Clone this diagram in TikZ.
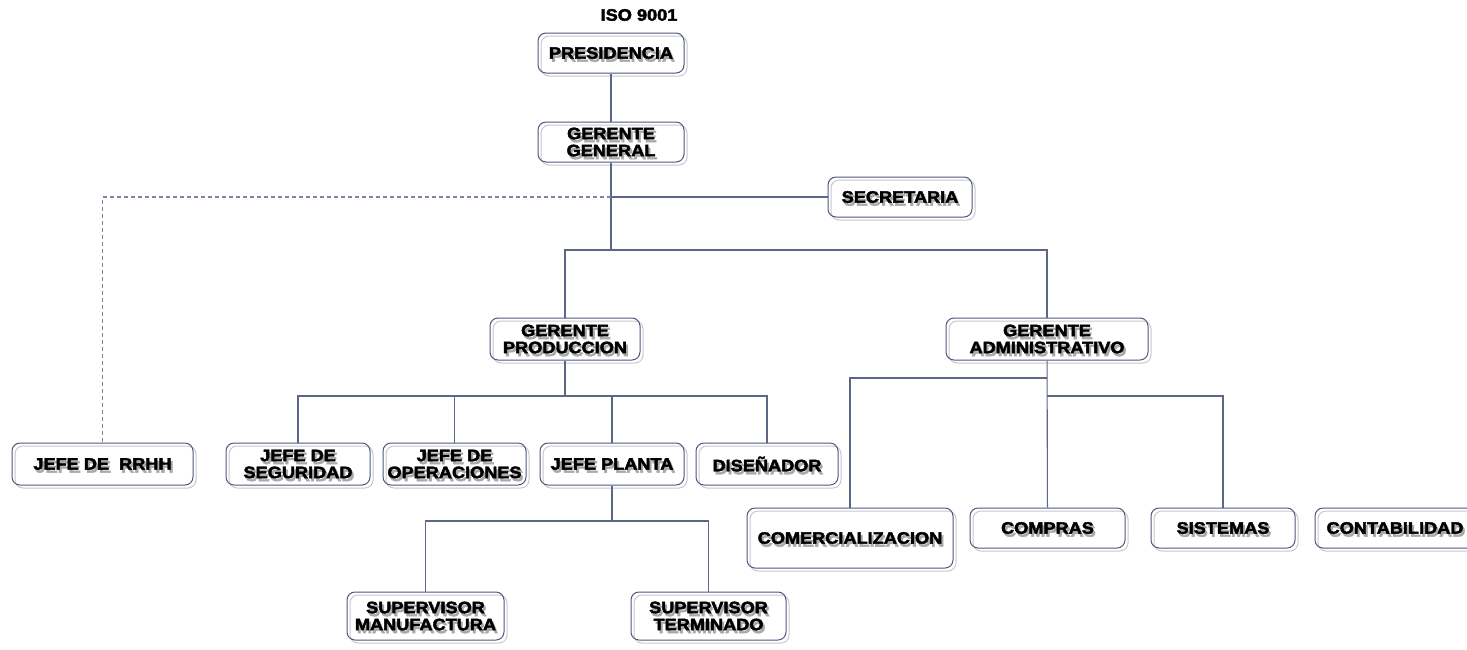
\documentclass[tikz,border=0pt]{standalone}
\usepackage{fontspec}
\newfontfamily\heavyfont{Liberation Sans}[UprightFont={* Bold},FakeBold=2.6,FakeStretch=1.1]
\definecolor{linkcol}{HTML}{5E6688}
\definecolor{edgecol}{HTML}{4E5982}
\definecolor{shadecol}{HTML}{C9C9CC}
\definecolor{textshade}{HTML}{A9A9A9}
\tikzset{
  link/.style={draw=linkcol,line width=1.1pt},
  dashlink/.style={draw=linkcol!80,line width=1.1pt,dash pattern=on 4pt off 3pt},
  unitbox/.style={draw=edgecol,line width=1pt,rounded corners=8pt,inner sep=0pt},
  boxshade/.style={draw=shadecol,line width=1pt,rounded corners=8pt},
  unittext/.style={font=\heavyfont\fontsize{16.5}{17}\selectfont,align=center,inner sep=0pt,text=black},
  unitshadow/.style={unittext,text=textshade},
}
% #1 name, #2 left, #3 top, #4 right, #5 bottom, #6 label
\newcommand\orgunit[6]{%
  \draw[boxshade] ({#2+3},{#3+3}) rectangle ({#4+3},{#5+3});
  \node[unitbox,minimum width={(#4)-(#2)},minimum height={(#5)-(#3)}] (#1) at ({(#2+#4)/2},{(#3+#5)/2}) {};
  \node[unitshadow] at ([xshift=2pt,yshift=-3pt]#1.center) {#6};
  \node[unittext] at (#1.center) {#6};
}
\begin{document}
\begin{tikzpicture}[x=1pt,y=-1pt]
\useasboundingbox (0,0) rectangle (1467,649);
\fill[white] (0,0) rectangle (1467,649);

\node[unittext] (iso) at (639,15) {ISO 9001};

\orgunit{pres}{538}{33}{684}{73}{PRESIDENCIA}
\orgunit{gg}{538}{122}{684}{162}{GERENTE\\GENERAL}
\orgunit{sec}{828}{177}{972}{217}{SECRETARIA}
\orgunit{gp}{490}{318}{640}{360}{GERENTE\\PRODUCCION}
\orgunit{ga}{946}{318}{1148}{360}{GERENTE\\ADMINISTRATIVO}
\orgunit{rrhh}{12}{443}{193}{485}{JEFE DE\ \ RRHH}
\orgunit{seg}{226}{443}{370}{485}{JEFE DE\\SEGURIDAD}
\orgunit{ops}{383}{443}{526}{485}{JEFE DE\\OPERACIONES}
\orgunit{planta}{540}{443}{684}{485}{JEFE PLANTA}
\orgunit{dis}{696}{443}{838}{485}{DISEÑADOR}
\orgunit{supm}{347}{592}{504}{640}{SUPERVISOR\\MANUFACTURA}
\orgunit{supt}{631}{592}{786}{640}{SUPERVISOR\\TERMINADO}
\orgunit{com}{747}{508}{953}{568}{COMERCIALIZACION}
\orgunit{comp}{970}{508}{1125}{548}{COMPRAS}
\orgunit{sis}{1151}{508}{1295}{548}{SISTEMAS}
\orgunit{cont}{1315}{508}{1475}{548}{CONTABILIDAD}

% junction points of the connector tree
\coordinate (hub) at (611,250);
\coordinate (secj) at (611,197);
\coordinate (pj) at (565,396);
\coordinate (plj) at (612,521);
\coordinate (aj1) at (1047,378);
\coordinate (aj2) at (1047,396);

\draw[link] (pres) -- (gg);
\draw[link] (gg) -- (hub);
\draw[link] (secj) -- (sec);
\draw[dashlink] (secj) -| (rrhh);
\draw[link] (hub) -| (gp);
\draw[link] (hub) -| (ga);

\draw[link] (gp) -- (pj);
\draw[link] (pj) -| (seg);
\draw[link] (pj) -| (ops);
\draw[link] (pj) -| (planta);
\draw[link] (pj) -| (dis);

\draw[link] (planta) -- (plj);
\draw[link] (plj) -| (supm);
\draw[link] (plj) -| (supt);

\draw[link] (ga) -- (comp);
\draw[link] (aj1) -| (com);
\draw[link] (aj2) -| (sis);
\end{tikzpicture}
\end{document}
